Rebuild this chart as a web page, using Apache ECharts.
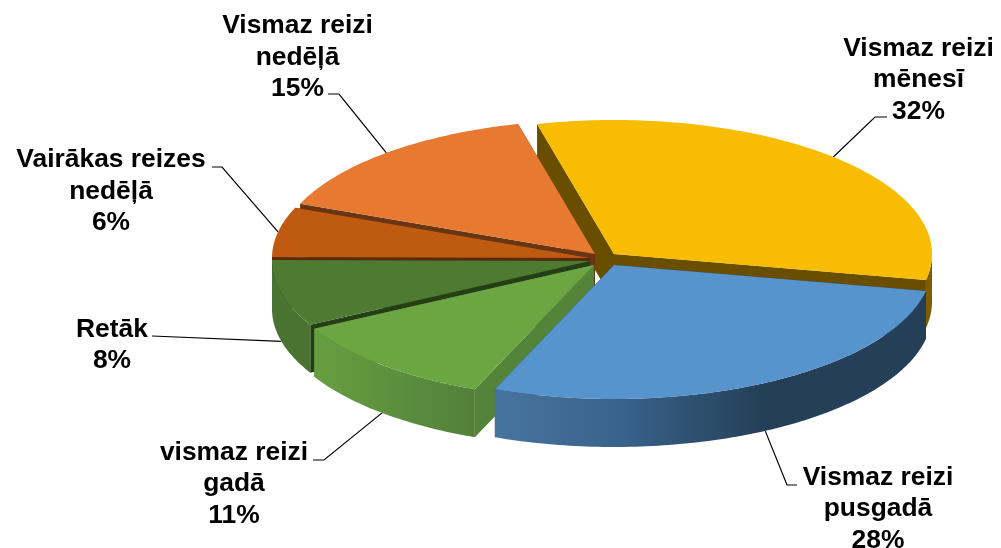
<!DOCTYPE html>
<html><head><meta charset="utf-8">
<style>html,body{margin:0;padding:0;background:#fff}#c{width:1001px;height:548px}</style>
<script src="https://cdn.jsdelivr.net/npm/echarts@6/dist/echarts.min.js"></script>
</head><body><div id="c"></div>
<script>
const categories = ['Vismaz reizi\nmēnesī','Vismaz reizi\npusgadā','vismaz reizi\ngadā','Retāk','Vairākas reizes\nnedēļā','Vismaz reizi\nnedēļā'];
const shares = [32,28,11,8,6,15];

// layout and style, kept apart from the data
const apexes = [[614,254],[614,265],[594,265],[590,261],[590,258],[595,254]];
const drawRank = [0,5,4,3,2,1];
const labelCentres = [[918.5,80],[878,509],[234,484],[112,345.5],[111,191.5],[297.5,57.5]];
const elbows = [[[887,117],[875,117]],[[797,485],[787,485]],[[313,460],[324,460]],[[152,336]],[[212,167],[222,167]],[[328,94],[339,94]]];
const topColors = ['#F8BC00','#5793CD','#6BA643','#4E7B31','#BF5A11','#E77A30'];
const wallColors = ['#6A4E00','#243F57','#54843A','#263E15','#5A2A0C','#6A3512'];
const rimColors = [
  ['#7E5D00','#7E5D00'],
  [[0,'#47749F'],[0.3,'#38628A'],[0.63,'#243F57'],[1,'#243F57']],
  [[0,'#669F41'],[1,'#52803A']],
  ['#4A7230','#4A7230'],
  ['#8A4210','#8A4210'],
  ['#A8581F','#A8581F']
];
const RX=318, RY=134, DEPTH=48, START=-14;
const FONT='bold 26.4px "Liberation Sans", Arial, sans-serif';

const total = shares.reduce((a,b)=>a+b,0);
function span(i){
  let s=START; for(let k=0;k<i;k++) s+=shares[k]/total*360;
  return [s, s+shares[i]/total*360];
}
function pt(i,deg,drop){
  const r=deg*Math.PI/180;
  return [apexes[i][0]+RX*Math.sin(r), apexes[i][1]-RY*Math.cos(r)+(drop||0)];
}
function arc(i,a,b,drop){
  const out=[], n=Math.max(8,Math.ceil(Math.abs(b-a)));
  for(let k=0;k<=n;k++) out.push(pt(i,a+(b-a)*k/n,drop));
  return out;
}
function renderSlice(params,api){
  const i=params.dataIndex, [a,b]=span(i), A=apexes[i], base=drawRank[i]*10+10;
  const aDown=[A[0],A[1]+DEPTH];
  const rc=rimColors[i];
  const stops=Array.isArray(rc[0])?rc.map(s=>({offset:s[0],color:s[1]})):[{offset:0,color:rc[0]},{offset:1,color:rc[1]}];
  const top=[A].concat(arc(i,a,b,0));
  const children=[
    {type:'polygon',z2:base,shape:{points:[A,pt(i,a),pt(i,a,DEPTH),aDown]},style:{fill:wallColors[i]}},
    {type:'polygon',z2:base+1,shape:{points:[A,pt(i,b),pt(i,b,DEPTH),aDown]},style:{fill:wallColors[i]}},
    {type:'polygon',z2:base+3,shape:{points:top},style:{fill:topColors[i]}}
  ];
  const ra=Math.max(a,90), rb=Math.min(b,270);
  if(rb>ra){
    children.push({type:'polygon',z2:base+2,shape:{points:arc(i,ra,rb,0).concat(arc(i,rb,ra,DEPTH))},
      style:{fill:new echarts.graphic.LinearGradient(0,0,1,0,stops)}});
  }
  return {type:'group',children};
}
function renderLabel(params,api){
  const i=params.dataIndex, [a,b]=span(i), mid=(a+b)/2;
  const c=Math.cos(mid*Math.PI/180);
  const end=pt(i,mid,c<0?DEPTH:0);
  return {type:'group',children:[
    {type:'polyline',z2:1,shape:{points:elbows[i].concat([end])},style:{fill:null,stroke:'#000',lineWidth:1.2}},
    {type:'text',z2:200,style:{text:categories[i]+'\n'+shares[i]+'%',x:labelCentres[i][0],y:labelCentres[i][1],
      align:'center',verticalAlign:'middle',font:FONT,lineHeight:31.3,fill:'#000',textAlign:'center',textVerticalAlign:'middle'}}
  ]};
}
const chart=echarts.init(document.getElementById('c'),null,{renderer:'canvas'});
chart.setOption({
  animation:false,
  backgroundColor:'#fff',
  series:[
    {type:'custom',coordinateSystem:'none',silent:true,z:1,renderItem:renderLabel,data:shares.map((v,i)=>({name:categories[i],value:v}))},
    {type:'custom',coordinateSystem:'none',silent:true,z:2,renderItem:renderSlice,data:shares.map((v,i)=>({name:categories[i],value:v}))}
  ]
});
</script></body></html>
